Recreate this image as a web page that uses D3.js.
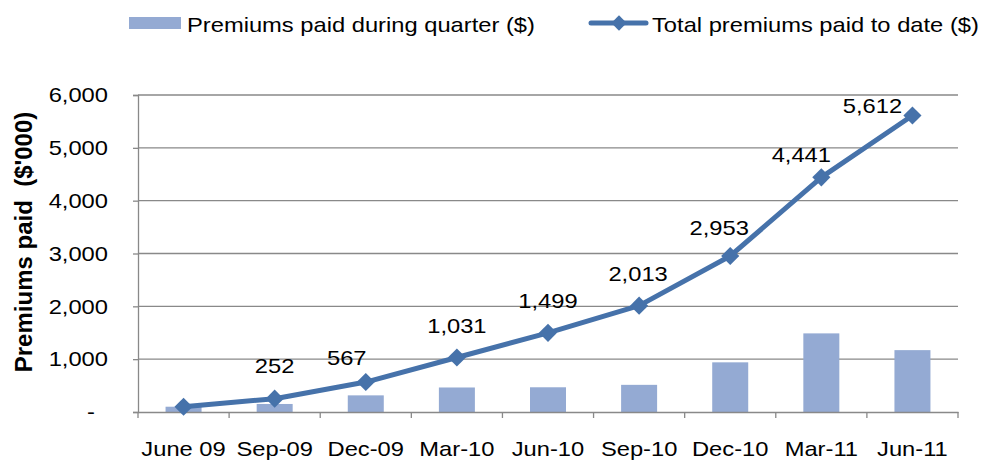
<!DOCTYPE html>
<html>
<head>
  <meta charset="utf-8">
  <style>
    body { margin: 0; background: #fff; }
    svg text { font-family: "Liberation Sans", Arial, sans-serif; fill: #000; }
    .stretch { transform-box: fill-box; transform: scaleX(1.13); }
    .from-left { transform-origin: left center; }
    .from-mid { transform-origin: center center; }
    .from-right { transform-origin: right center; }
  </style>
</head>
<body>
<div id="chart"></div>
<script src="https://d3js.org/d3.v7.min.js"></script>
<script>
  // quarters shown on the x axis
  const quarters = ["June 09", "Sep-09", "Dec-09", "Mar-10", "Jun-10", "Sep-10", "Dec-10", "Mar-11", "Jun-11"];
  // premiums paid in each quarter ($'000)
  const quarterly = [100, 152, 315, 464, 468, 514, 940, 1488, 1171];
  // running total ($'000), from the data labels
  const totals = [100, 252, 567, 1031, 1499, 2013, 2953, 4441, 5612];
  const yTicks = [0, 1000, 2000, 3000, 4000, 5000, 6000];

  const width = 986, height = 462;
  const margin = {top: 95, right: 28, bottom: 50, left: 138};
  const lineColor = "#4672AA";
  const barColor = "#94AAD3";
  const gridColor = "#898989";
  const fs = 21;

  const svg = d3.select('#chart').append('svg')
    .attr('width', width)
    .attr('height', height);

  const x = d3.scaleBand()
    .domain(quarters)
    .range([margin.left, width - margin.right]);

  const y = d3.scaleLinear()
    .domain([0, 6000])
    .range([height - margin.bottom, margin.top]);

  const cx = i => x(quarters[i]) + x.bandwidth() / 2;

  // horizontal gridlines
  svg.append('g')
    .selectAll('line')
    .data(yTicks.slice(1))
    .enter()
    .append('line')
    .attr('x1', margin.left)
    .attr('x2', width - margin.right)
    .attr('y1', d => y(d))
    .attr('y2', d => y(d))
    .attr('stroke', gridColor)
    .attr('stroke-width', 1.3);

  // bars
  svg.append('g')
    .selectAll('rect')
    .data(quarterly)
    .enter()
    .append('rect')
    .attr('x', (d, i) => cx(i) - 18)
    .attr('width', 36)
    .attr('y', d => y(d))
    .attr('height', d => y(0) - y(d))
    .attr('fill', barColor);

  // y axis
  const yAxis = svg.append('g')
    .attr('transform', `translate(${margin.left},0)`)
    .call(d3.axisLeft(y).tickValues(yTicks).tickSize(5).tickPadding(25)
      .tickFormat(d => d === 0 ? '-' : d3.format(',')(d)));
  yAxis.select('.domain').attr('stroke', gridColor).attr('stroke-width', 1.3);
  yAxis.selectAll('.tick line').attr('stroke', gridColor).attr('stroke-width', 1.3);
  yAxis.selectAll('.tick text')
    .attr('font-size', fs)
    .attr('font-family', null)
    .attr('class', 'stretch from-right')
    .attr('dx', d => d === 0 ? -13 : 0);

  // x axis with ticks on category boundaries
  const xAxis = svg.append('g')
    .attr('transform', `translate(0,${y(0)})`)
    .call(d3.axisBottom(x).tickSize(0).tickPadding(29));
  xAxis.select('.domain').attr('stroke', gridColor).attr('stroke-width', 1.3);
  xAxis.selectAll('.tick text')
    .attr('font-size', fs)
    .attr('font-family', null)
    .attr('class', 'stretch from-mid');
  xAxis.selectAll('.bound')
    .data(quarters.concat(['end']))
    .enter()
    .append('line')
    .attr('class', 'bound')
    .attr('x1', (d, i) => margin.left + i * x.step())
    .attr('x2', (d, i) => margin.left + i * x.step())
    .attr('y1', 0)
    .attr('y2', 6)
    .attr('stroke', gridColor)
    .attr('stroke-width', 1.3);

  // total line with diamond markers
  const line = d3.line()
    .x((d, i) => cx(i))
    .y(d => y(d));

  svg.append('path')
    .datum(totals)
    .attr('d', line)
    .attr('fill', 'none')
    .attr('stroke', lineColor)
    .attr('stroke-width', 5)
    .attr('stroke-linejoin', 'round');

  const diamond = d3.symbol().type(d3.symbolDiamond2).size(210);
  svg.append('g')
    .selectAll('path')
    .data(totals)
    .enter()
    .append('path')
    .attr('d', diamond)
    .attr('transform', (d, i) => `translate(${cx(i)},${y(d)})`)
    .attr('fill', lineColor);

  // data labels (first point has none); nudges match the manual placement
  const nudge = [null, [0, -26], [-19, -17], [0, -25], [0, -25], [-1, -25], [-11, -21], [-20, -15], [-40, -2]];
  const labelled = totals.map((v, i) => ({v, i})).filter(d => nudge[d.i] !== null);
  svg.append('g')
    .selectAll('text')
    .data(labelled)
    .enter()
    .append('text')
    .attr('x', d => cx(d.i) + nudge[d.i][0])
    .attr('y', d => y(d.v) + nudge[d.i][1])
    .attr('text-anchor', 'middle')
    .attr('font-size', fs)
    .attr('class', 'stretch from-mid')
    .text(d => d3.format(',')(d.v));

  // y axis title (two spaces kept)
  svg.append('text')
    .attr('transform', `translate(32,242) rotate(-90)`)
    .attr('text-anchor', 'middle')
    .attr('font-size', 24)
    .attr('font-weight', 'bold')
    .style('white-space', 'pre')
    .text("Premiums paid  ($'000)");

  // legend
  const legend = svg.append('g');
  legend.append('rect')
    .attr('x', 129).attr('y', 17)
    .attr('width', 52).attr('height', 12)
    .attr('fill', barColor);
  legend.append('text')
    .attr('x', 187).attr('y', 32)
    .attr('font-size', fs)
    .attr('class', 'stretch from-left')
    .text('Premiums paid during quarter ($)');
  legend.append('line')
    .attr('x1', 591).attr('x2', 646)
    .attr('y1', 23).attr('y2', 23)
    .attr('stroke', lineColor)
    .attr('stroke-width', 5)
    .attr('stroke-linecap', 'round');
  legend.append('path')
    .attr('d', d3.symbol().type(d3.symbolDiamond2).size(150))
    .attr('transform', 'translate(619,23)')
    .attr('fill', lineColor);
  legend.append('text')
    .attr('x', 652).attr('y', 32)
    .attr('font-size', fs)
    .attr('class', 'stretch from-left')
    .text('Total premiums paid to date ($)');
</script>
</body>
</html>
